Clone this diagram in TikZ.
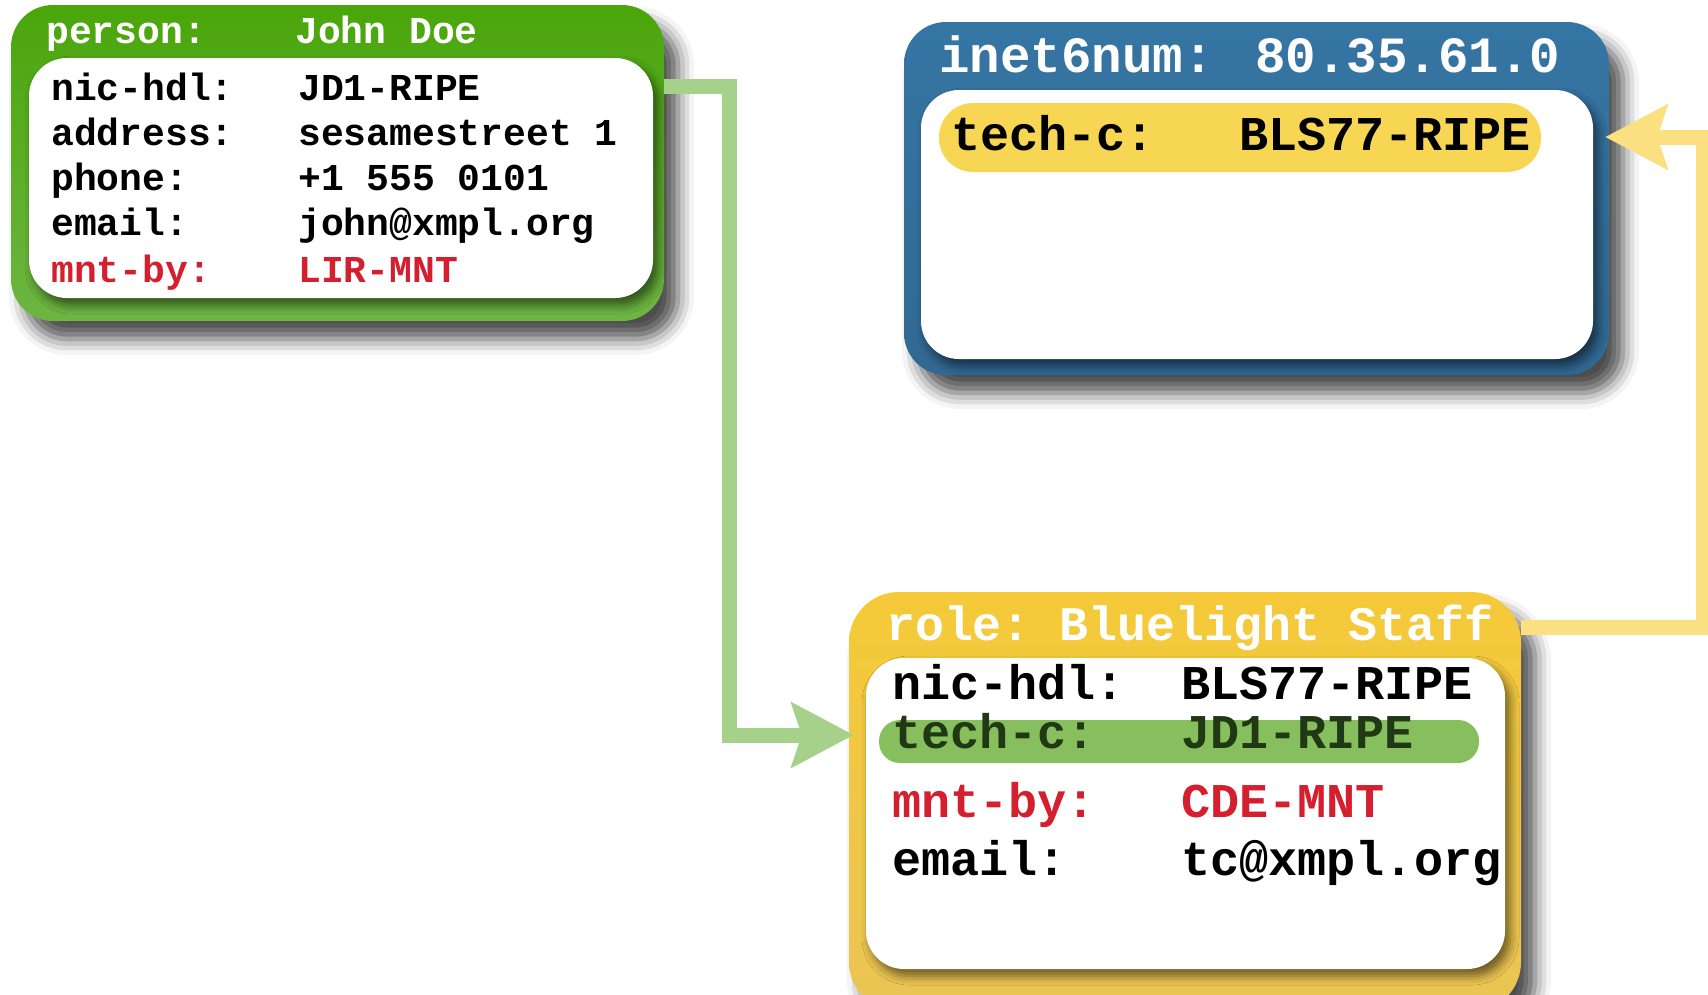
\documentclass[tikz,border=0pt]{standalone}
\usepackage{fontspec}
\setmonofont{Liberation Mono}
\usepackage{xcolor}
\usepackage{tikz}
\usetikzlibrary{positioning}
\usetikzlibrary{arrows.meta, shadows.blur, calc}
\definecolor{greentop}{rgb}{0.29, 0.65, 0.04}
\definecolor{greenbot}{rgb}{0.43, 0.71, 0.26}
\definecolor{bluetop}{rgb}{0.21, 0.46, 0.64}
\definecolor{bluebot}{rgb}{0.19, 0.41, 0.58}
\definecolor{yellowtop}{rgb}{0.96, 0.79, 0.22}
\definecolor{yellowbot}{rgb}{0.92, 0.77, 0.33}
\definecolor{pillyellow}{rgb}{0.97, 0.84, 0.33}
\definecolor{pillgreen}{rgb}{0.53, 0.75, 0.37}
\definecolor{linkgreen}{rgb}{0.65, 0.82, 0.54}
\definecolor{linkyellow}{rgb}{0.98, 0.88, 0.50}
\definecolor{mntred}{rgb}{0.83, 0.12, 0.18}
\definecolor{darkgreentext}{rgb}{0.13, 0.22, 0.08}

\tikzset{
  objbox/.style={rounded corners=42pt, inner sep=0pt,
    blur shadow={shadow xshift=14pt, shadow yshift=-18pt, shadow blur radius=16pt, shadow opacity=70}},
  bodybox/.style={fill=white, rounded corners=38pt, inner sep=0pt,
    blur shadow={shadow xshift=5pt, shadow yshift=-7pt, shadow blur radius=9pt, shadow opacity=55}},
  pill/.style={inner sep=0pt},
  smalltxt/.style={font=\fontsize{38}{40}\selectfont\ttfamily\bfseries, anchor=base west, inner sep=0pt},
  bigtxt/.style={font=\fontsize{48.5}{50}\selectfont\ttfamily\bfseries, anchor=base west, inner sep=0pt},
  hdrtxt/.style={text=white},
  link/.style={line width=15pt,
    -{Stealth[length=62pt, width=64pt, inset=10pt]}},
}

\begin{document}
\begin{tikzpicture}[x=1pt, y=-1pt]
        \useasboundingbox (0,0) rectangle (1708,994);
        \clip (0,0) rectangle (1708,994);

        % person object
        \node[objbox, top color=greentop, bottom color=greenbot,
              minimum width=653pt, minimum height=316pt] (person) at (337.5,163) {};
        \node[bodybox, minimum width=624pt, minimum height=240pt] (personbody) at (341,178) {};
        \node[smalltxt, hdrtxt] (phdr) at (46,43) {person:};
        \node[smalltxt, hdrtxt] (phdrv) at (295,43) {John Doe};
        \node[smalltxt] (pnic) at (51,100) {nic-hdl:};
        \node[smalltxt] (pnicv) at (298,100) {JD1-RIPE};
        \node[smalltxt] (paddr) at (51,145) {address:};
        \node[smalltxt] (paddrv) at (298,145) {sesamestreet 1};
        \node[smalltxt] (pphone) at (51,190) {phone:};
        \node[smalltxt] (pphonev) at (298,190) {+1 555 0101};
        \node[smalltxt] (pmail) at (51,235) {email:};
        \node[smalltxt] (pmailv) at (298,235) {john@xmpl.org};
        \node[smalltxt, text=mntred] (pmnt) at (51,282) {mnt-by:};
        \node[smalltxt, text=mntred] (pmntv) at (298,282) {LIR-MNT};

        % inet6num object
        \node[objbox, top color=bluetop, bottom color=bluebot,
              minimum width=705pt, minimum height=353pt] (inet) at (1256.5,198.5) {};
        \node[bodybox, minimum width=672pt, minimum height=269pt] (inetbody) at (1257,224.5) {};
        \node[pill, fill=pillyellow, rounded corners=34pt,
              minimum width=602pt, minimum height=69pt] (techpill) at (1240,137.5) {};
        \node[bigtxt, hdrtxt, font=\fontsize{50.8}{52}\selectfont\ttfamily\bfseries] (ihdr) at (939,72) {inet6num:};
        \node[bigtxt, hdrtxt, font=\fontsize{50.8}{52}\selectfont\ttfamily\bfseries] (ihdrv) at (1255,72) {80.35.61.0};
        \node[bigtxt] (itech) at (951,150) {tech-c:};
        \node[bigtxt] (itechv) at (1239,150) {BLS77-RIPE};

        % role object
        \node[objbox, top color=yellowtop, bottom color=yellowbot, rounded corners=50pt,
              minimum width=672pt, minimum height=420pt] (role) at (1185,802) {};
        \node[bodybox, minimum width=639pt, minimum height=311pt] (rolebody) at (1185.5,813.5) {};
        \node[pill, fill=pillgreen, rounded corners=21pt,
              minimum width=600pt, minimum height=43pt] (jdpill) at (1179,741.5) {};
        \node[bigtxt, hdrtxt, font=\fontsize{48.2}{50}\selectfont\ttfamily\bfseries] (rhdr) at (886,640) {role: Bluelight Staff};
        \node[bigtxt] (rnic) at (892,699) {nic-hdl:};
        \node[bigtxt] (rnicv) at (1181,699) {BLS77-RIPE};
        \node[bigtxt, text=darkgreentext] (rtech) at (892,748) {tech-c:};
        \node[bigtxt, text=darkgreentext] (rtechv) at (1181,748) {JD1-RIPE};
        \node[bigtxt, text=mntred] (rmnt) at (892,817) {mnt-by:};
        \node[bigtxt, text=mntred] (rmntv) at (1181,817) {CDE-MNT};
        \node[bigtxt] (rmail) at (892,875) {email:};
        \node[bigtxt] (rmailv) at (1181,875) {tc@xmpl.org};

        % references
        \coordinate (gbend) at (729,735);
        \coordinate (ybend) at (1703,137);
        \draw[link, draw=linkgreen, shorten >=-5pt]
            (person.east |- pnic.center) -| (gbend) -- (role.west |- gbend);
        \draw[link, draw=linkyellow, shorten >=-4pt]
            (role.east |- rhdr.center) -| (ybend) -- (inet.east |- ybend);
    \end{tikzpicture}
\end{document}
